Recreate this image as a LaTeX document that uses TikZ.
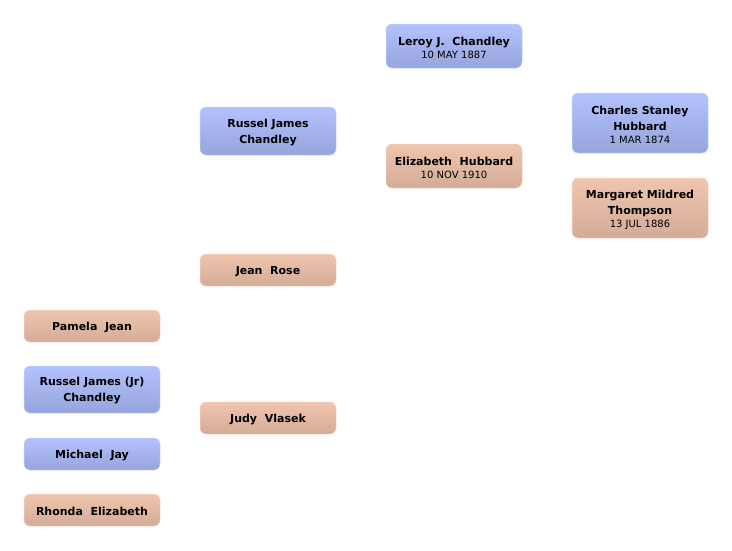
\documentclass[tikz,border=0pt]{standalone}
\usepackage{fontspec}
\setmainfont{DejaVu Sans}
\definecolor{mtop}{HTML}{B3C1FE}
\definecolor{mbot}{HTML}{97A5DC}
\definecolor{ftop}{HTML}{F0C5AC}
\definecolor{fbot}{HTML}{D3AC98}
\tikzset{
  person/.style={rounded corners=6pt, minimum width=136pt, inner sep=0pt, align=center,
    font=\bfseries\fontsize{11}{16}\selectfont, text=black},
  male/.style={person, top color=mtop, bottom color=mbot, draw=mtop!70!white, line width=0.5pt},
  female/.style={person, top color=ftop, bottom color=fbot, draw=ftop!70!white, line width=0.5pt},
  lbl/.style={yshift=-1.5pt, align=center, font=\bfseries\fontsize{11}{16}\selectfont, text=black},
}
\newcommand{\bdate}[1]{\\[-3pt]{\mdseries\fontsize{10}{12}\selectfont #1}}
\begin{document}
\begin{tikzpicture}[x=1pt,y=-1pt]
\useasboundingbox (0,0) rectangle (732,550);
\node[male, minimum height=44pt, label={[lbl]center:{Leroy J.\ \ Chandley\bdate{10 MAY 1887}}}] (leroy) at (454,46) {};
\node[female, minimum height=44pt, label={[lbl]center:{Elizabeth\ \ Hubbard\bdate{10 NOV 1910}}}] (elizabeth) at (454,166) {};
\node[male, minimum height=60pt, label={[lbl]center:{Charles Stanley\\Hubbard\bdate{1 MAR 1874}}}] (charles) at (640,123) {};
\node[female, minimum height=60pt, label={[lbl]center:{Margaret Mildred\\Thompson\bdate{13 JUL 1886}}}] (margaret) at (640,208) {};
\node[male, minimum height=48pt, label={[lbl]center:{Russel James\\Chandley}}] (russel) at (268,131) {};
\node[female, minimum height=32pt, label={[lbl]center:{Jean\ \ Rose}}] (jean) at (268,270) {};
\node[female, minimum height=32pt, label={[lbl]center:{Judy\ \ Vlasek}}] (judy) at (268,418) {};
\node[female, minimum height=32pt, label={[lbl]center:{Pamela\ \ Jean}}] (pamela) at (92,326) {};
\node[male, minimum height=47pt, label={[lbl]center:{Russel James (Jr)\\Chandley}}] (russeljr) at (92,389.5) {};
\node[male, minimum height=32pt, label={[lbl]center:{Michael\ \ Jay}}] (michael) at (92,454) {};
\node[female, minimum height=32pt, label={[lbl]center:{Rhonda\ \ Elizabeth}}] (rhonda) at (92,510) {};
\end{tikzpicture}
\end{document}
